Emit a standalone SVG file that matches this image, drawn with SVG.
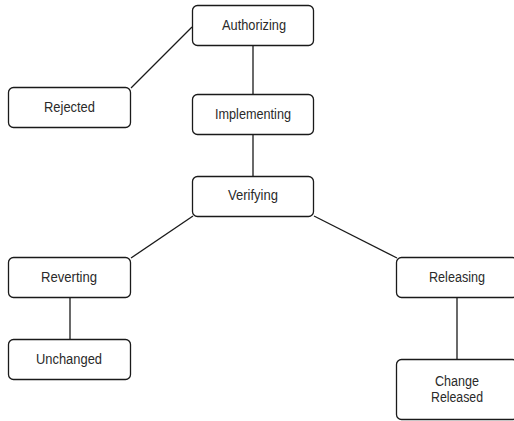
<svg xmlns="http://www.w3.org/2000/svg" width="514" height="421" viewBox="0 0 514 421">
<style>
.box{fill:#fff;stroke:#1a1a1a;stroke-width:1.3}
.lbl{font-family:"Liberation Sans",Arial,sans-serif;font-size:14px;fill:#2a2a2a;text-anchor:middle}
.conn line{stroke:#1a1a1a;stroke-width:1.3}
</style>
<rect width="514" height="421" fill="#fff"/>
<g id="connectors" class="conn">
<line x1="131" y1="88" x2="192" y2="27"/>
<line x1="253" y1="45" x2="253" y2="94"/>
<line x1="253" y1="135" x2="253" y2="176"/>
<line x1="193" y1="216" x2="131" y2="258"/>
<line x1="314" y1="216" x2="397" y2="258"/>
<line x1="70" y1="298" x2="70" y2="339"/>
<line x1="457" y1="298" x2="457" y2="359"/>
</g>
<g id="authorizing"><rect class="box" x="192.5" y="5.5" width="121" height="40" rx="5"/><text class="lbl" x="254" y="29.5" textLength="64" lengthAdjust="spacingAndGlyphs">Authorizing</text></g>
<g id="rejected"><rect class="box" x="8.5" y="87.5" width="122" height="40" rx="5"/><text class="lbl" x="69.5" y="111.5" textLength="51" lengthAdjust="spacingAndGlyphs">Rejected</text></g>
<g id="implementing"><rect class="box" x="192.5" y="94.5" width="121" height="40" rx="5"/><text class="lbl" x="253" y="118.5" textLength="76" lengthAdjust="spacingAndGlyphs">Implementing</text></g>
<g id="verifying"><rect class="box" x="192.5" y="176.5" width="121" height="40" rx="5"/><text class="lbl" x="253" y="200" textLength="50" lengthAdjust="spacingAndGlyphs">Verifying</text></g>
<g id="reverting"><rect class="box" x="8.5" y="257.5" width="122" height="40" rx="5"/><text class="lbl" x="69" y="281.5" textLength="56" lengthAdjust="spacingAndGlyphs">Reverting</text></g>
<g id="unchanged"><rect class="box" x="8.5" y="339.5" width="122" height="40" rx="5"/><text class="lbl" x="69" y="363.5" textLength="66" lengthAdjust="spacingAndGlyphs">Unchanged</text></g>
<g id="releasing"><rect class="box" x="396.5" y="257.5" width="121" height="40" rx="5"/><text class="lbl" x="457" y="281.5" textLength="56" lengthAdjust="spacingAndGlyphs">Releasing</text></g>
<g id="change-released"><rect class="box" x="396.5" y="359.5" width="121" height="60" rx="5"/><text class="lbl" x="457" y="385.5" textLength="44" lengthAdjust="spacingAndGlyphs">Change</text><text class="lbl" x="457" y="402" textLength="52" lengthAdjust="spacingAndGlyphs">Released</text></g>
</svg>
